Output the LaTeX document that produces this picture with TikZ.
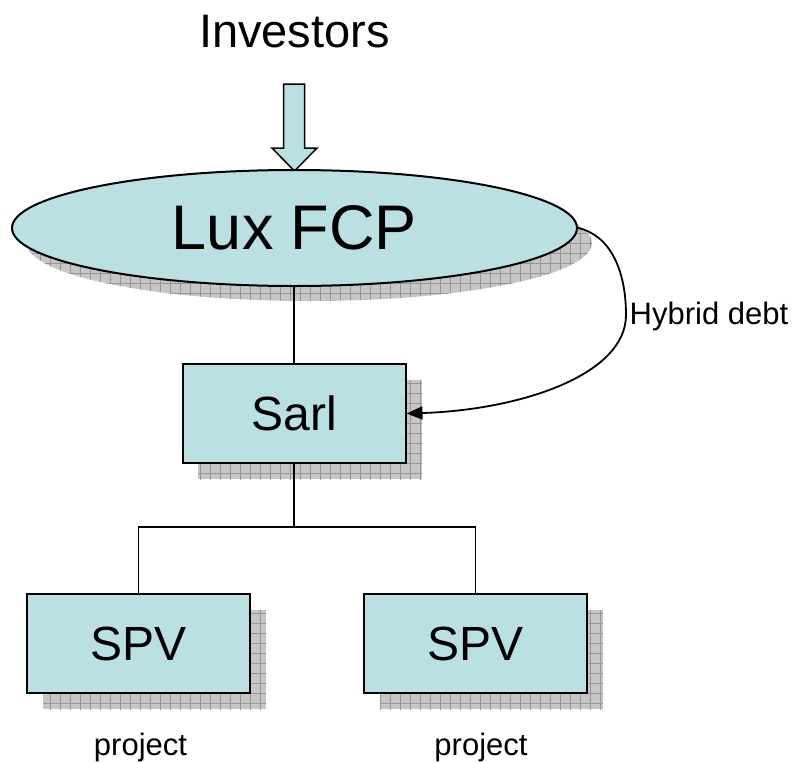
\documentclass[tikz,border=0pt]{standalone}
\usepackage{fontspec}
\setmainfont{Liberation Sans}
\usetikzlibrary{shapes.geometric,arrows.meta,patterns.meta}
\definecolor{boxfill}{RGB}{186,224,228}
\definecolor{shadowgray}{RGB}{198,198,198}
\definecolor{gridgray}{RGB}{150,150,150}
\tikzset{
  shadowfill/.style={fill=shadowgray,
    postaction={pattern={Lines[angle=0,distance=10pt,line width=0.6pt]}, pattern color=gridgray},
    postaction={pattern={Lines[angle=90,distance=10pt,line width=0.6pt]}, pattern color=gridgray}},
  entity/.style={draw=black, line width=2pt, fill=boxfill, inner sep=0pt},
  boxnode/.style={entity, rectangle, minimum width=223pt, minimum height=99pt, font=\fontsize{48}{48}\selectfont},
  conn/.style={line width=1.8pt, draw=black},
  smalltext/.style={font=\fontsize{31}{31}\selectfont, inner sep=0pt}
}
\begin{document}
\begin{tikzpicture}[x=1pt,y=-1pt]
\useasboundingbox (0,0) rectangle (796,763);
% shadows
\fill[shadowfill] (309.5,243) ellipse [x radius=282.5, y radius=58];
\fill[shadowfill] (198,380) rectangle (422,479);
\fill[shadowfill] (43,610) rectangle (266,709);
\fill[shadowfill] (380,610) rectangle (603,709);
% investors
\node[anchor=base, inner sep=0pt, font=\fontsize{47}{47}\selectfont] (inv) at (294.5,47) {Investors};
% block arrow
\draw[line width=1.5pt, fill=boxfill, line join=miter]
  (283.5,84) -- (304.5,84) -- (304.5,148) -- (317,148) -- (294.5,171) -- (272,148) -- (283.5,148) -- cycle;
% main nodes
\node[entity, ellipse, minimum width=565pt, minimum height=116pt, font=\fontsize{63}{63}\selectfont] (lux) at (294.5,228) {Lux FCP};
\node[boxnode] (sarl) at (294,413.5) {Sarl};
\node[boxnode] (spvA) at (138.5,643.5) {SPV};
\node[boxnode] (spvB) at (475.5,643.5) {SPV};
% connectors
\coordinate (bus) at (0,527);
\draw[conn] (sarl.north) -- (sarl.north |- lux.south);
\draw[conn] (sarl.south) -- (sarl.south |- bus);
\draw[conn] (spvA.north) -- (spvA.north |- bus) -- (spvB.north |- bus) -- (spvB.north);
% hybrid debt
\coordinate (hb) at (626,315);
\draw[conn, -{Triangle[length=16pt,width=13pt]}] (lux.east) .. controls (610,235) and (626,270) .. (hb)
  .. controls (626,375) and (520,410) .. (sarl.east);
\node[smalltext, anchor=base west] (hbl) at (629.5,324) {Hybrid debt};
% project labels
\node[smalltext, anchor=base] (projA) at (140.5,755) {project};
\node[smalltext, anchor=base] (projB) at (481,755) {project};
\end{tikzpicture}
\end{document}
